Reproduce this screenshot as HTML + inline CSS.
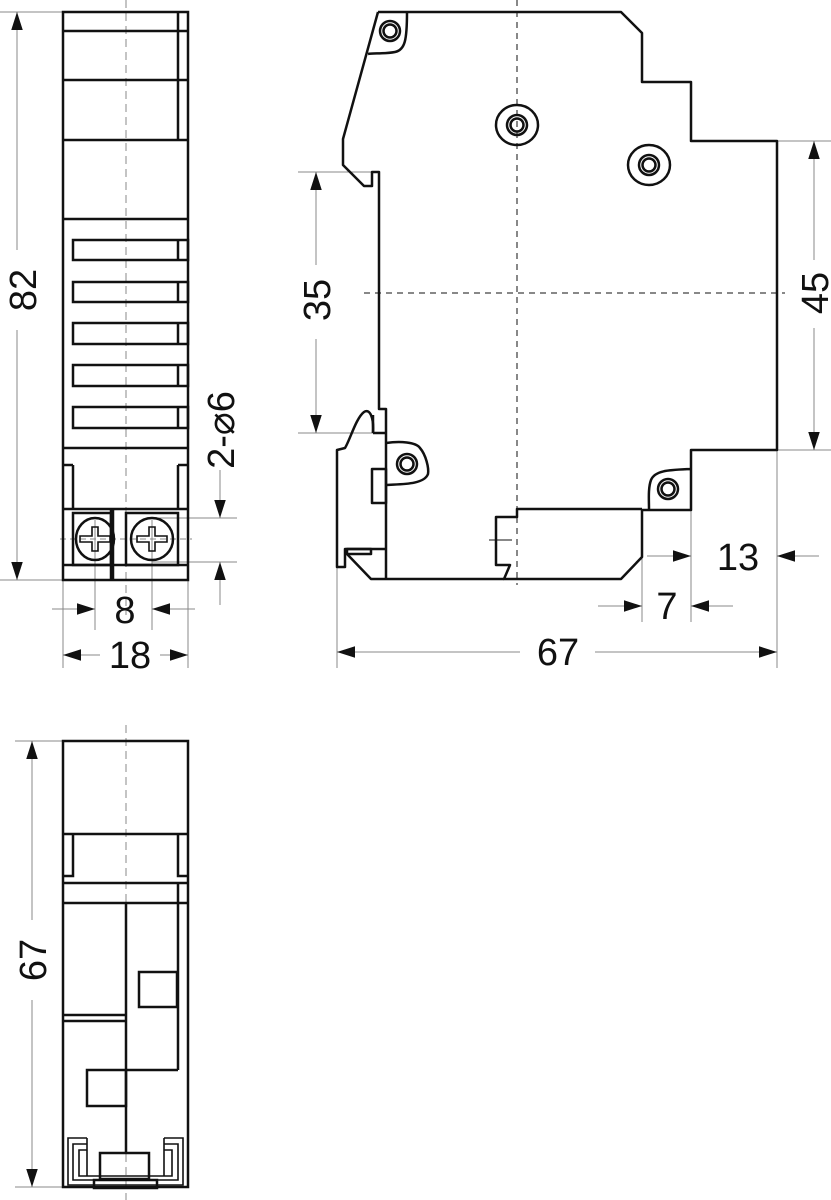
<!DOCTYPE html>
<html><head><meta charset="utf-8"><style>
html,body{margin:0;padding:0;background:#fff;}
svg{display:block;}
text{font-family:"Liberation Sans",sans-serif;font-size:38px;fill:#111;}
</style></head><body>
<svg width="831" height="1200" viewBox="0 0 831 1200" xmlns="http://www.w3.org/2000/svg">
<defs>
<marker id="a" viewBox="0 0 10 10" refX="10" refY="5" markerWidth="18" markerHeight="18" markerUnits="userSpaceOnUse" orient="auto"><path d="M0,1.8 L10,5 L0,8.2 Z" fill="#111"/></marker>
</defs>
<g stroke="#888" stroke-width="1" fill="none">
<line x1="126" y1="0" x2="126" y2="615" stroke-dasharray="8,5"/>
<line x1="126" y1="725" x2="126" y2="1200" stroke-dasharray="8,5"/>
<line x1="517" y1="0" x2="517" y2="585" stroke="#111" stroke-dasharray="6,5"/>
<line x1="364" y1="293" x2="785" y2="293" stroke="#111" stroke-dasharray="6,5"/>
<line x1="60" y1="539" x2="192" y2="539" stroke-dasharray="6,4"/>
<line x1="0" y1="12" x2="63" y2="12"/><line x1="0" y1="580" x2="63" y2="580"/>
<line x1="152" y1="518" x2="237" y2="518"/><line x1="152" y1="562" x2="237" y2="562"/>
<line x1="95" y1="520" x2="95" y2="630"/><line x1="152" y1="520" x2="152" y2="630"/>
<line x1="63" y1="580" x2="63" y2="668"/><line x1="188" y1="580" x2="188" y2="668"/>
<line x1="298" y1="172" x2="379" y2="172"/><line x1="298" y1="433" x2="373" y2="433"/>
<line x1="777" y1="141" x2="831" y2="141"/><line x1="777" y1="450" x2="831" y2="450"/>
<line x1="691" y1="510" x2="691" y2="622"/><line x1="642" y1="557" x2="642" y2="622"/>
<line x1="337" y1="567" x2="337" y2="668"/><line x1="777" y1="450" x2="777" y2="668"/>
<line x1="15" y1="741" x2="63" y2="741"/><line x1="15" y1="1187" x2="63" y2="1187"/>
</g>
<g stroke="#888" stroke-width="1" fill="none" marker-end="url(#a)">
<line x1="17" y1="250" x2="17" y2="12"/><line x1="17" y1="330" x2="17" y2="580"/>
<line x1="220" y1="470" x2="220" y2="518"/><line x1="220" y1="605" x2="220" y2="562"/>
<line x1="52" y1="609" x2="95" y2="609"/><line x1="195" y1="609" x2="152" y2="609"/>
<line x1="100" y1="655" x2="63" y2="655"/><line x1="160" y1="655" x2="188" y2="655"/>
<line x1="316" y1="265" x2="316" y2="172"/><line x1="316" y1="339" x2="316" y2="433"/>
<line x1="814" y1="260" x2="814" y2="141"/><line x1="814" y1="328" x2="814" y2="450"/>
<line x1="647" y1="556" x2="691" y2="556"/><line x1="819" y1="556" x2="777" y2="556"/>
<line x1="598" y1="606" x2="642" y2="606"/><line x1="733" y1="606" x2="691" y2="606"/>
<line x1="520" y1="652" x2="337" y2="652"/><line x1="595" y1="652" x2="777" y2="652"/>
<line x1="32" y1="920" x2="32" y2="741"/><line x1="32" y1="1000" x2="32" y2="1187"/>
</g>
<g stroke="#111" stroke-width="2.5" fill="none">
<rect x="63" y="12" width="125" height="568"/>
<line x1="63" y1="31" x2="188" y2="31"/><line x1="63" y1="80" x2="188" y2="80"/>
<line x1="63" y1="140" x2="188" y2="140"/><line x1="63" y1="219" x2="188" y2="219"/>
<line x1="63" y1="448" x2="188" y2="448"/><line x1="63" y1="509" x2="188" y2="509"/>
<line x1="178" y1="12" x2="178" y2="140"/>
<rect x="73" y="240" width="115" height="20"/><line x1="178" y1="240" x2="178" y2="260"/>
<rect x="73" y="282" width="115" height="20"/><line x1="178" y1="282" x2="178" y2="302"/>
<rect x="73" y="323" width="115" height="21"/><line x1="178" y1="323" x2="178" y2="344"/>
<rect x="73" y="365" width="115" height="21"/><line x1="178" y1="365" x2="178" y2="386"/>
<rect x="73" y="407" width="115" height="21"/><line x1="178" y1="407" x2="178" y2="428"/>
<line x1="73" y1="465" x2="73" y2="509"/><line x1="63" y1="465" x2="73" y2="465"/>
<line x1="178" y1="465" x2="178" y2="509"/><line x1="178" y1="465" x2="188" y2="465"/>
<line x1="111" y1="509" x2="111" y2="580"/><line x1="113" y1="509" x2="113" y2="580"/>
<rect x="73" y="513" width="38" height="52"/>
<line x1="63" y1="565" x2="188" y2="565"/>
<rect x="126" y="513" width="52" height="52"/>
<ellipse cx="95" cy="539" rx="19" ry="21"/>
<ellipse cx="152" cy="539" rx="21" ry="21"/>
<path d="M92,527 h6 v9 h12 v6 h-12 v9 h-6 v-9 h-12 v-6 h12 z" stroke-width="1.6"/>
<path d="M149,527 h6 v9 h12 v6 h-12 v9 h-6 v-9 h-12 v-6 h12 z" stroke-width="1.6"/>
</g>
<g stroke="#111" stroke-width="2.5" fill="none" stroke-linejoin="round">
<path d="M378,12 L621,12 L642,33 L642,82 L691,82 L691,141 L777,141 L777,450 L691,450 L691,510 L642,510 L642,557 L621,579 L504,579 L510,565 L496,565 L496,517 L517,517 L517,509 L642,509"/>
<path d="M504,579 L371,579 L347,554"/>
<path d="M378,12 L343,139 L343,165 L364,186 L372,186 L372,172 L379,172 L379,409 L386,409 L386,579"/>
<path d="M373,433 C374,418 370,408 364,412 C356,418 350,440 345,448 L337,450 L337,567 L345,567 L345,549 L386,549"/>
<line x1="373" y1="433" x2="386" y2="433"/><line x1="373" y1="415" x2="373" y2="433"/>
<rect x="347" y="549" width="24" height="5"/>
<rect x="372" y="469" width="14" height="34"/>
<path d="M407,12 C407,40 405,50 395,52 C385,54 372,53 368,54"/>
<circle cx="390" cy="31" r="10"/><circle cx="390" cy="31" r="6.5"/>
<path d="M386,443 C400,441 416,442 420,448 C426,455 429,468 428,474 C424,485 400,484 386,485"/>
<circle cx="407" cy="464" r="10"/><circle cx="407" cy="464" r="6.5"/>
<path d="M691,469 C670,470 655,470 651,480 C648,488 649,500 649,509"/>
<circle cx="668" cy="489" r="10"/><circle cx="668" cy="489" r="6.5"/>
<ellipse cx="517" cy="125" rx="21" ry="20"/><circle cx="517" cy="125" r="10"/><circle cx="517" cy="125" r="6.5"/>
<ellipse cx="649" cy="165" rx="21" ry="20"/><circle cx="649" cy="165" r="10"/><circle cx="649" cy="165" r="6.5"/>
</g>
<line x1="489" y1="540" x2="512" y2="540" stroke="#111" stroke-width="1"/>
<g stroke="#111" stroke-width="2.5" fill="none">
<rect x="63" y="741" width="125" height="446"/>
<line x1="63" y1="834" x2="188" y2="834"/>
<path d="M63,876 H73 V834"/><path d="M188,876 H178 V834"/>
<line x1="63" y1="883" x2="188" y2="883"/><line x1="63" y1="903" x2="188" y2="903"/>
<line x1="178" y1="883" x2="178" y2="1070"/><line x1="126" y1="1070" x2="178" y2="1070"/>
<line x1="126" y1="903" x2="126" y2="1153"/>
<line x1="63" y1="1015" x2="126" y2="1015"/><line x1="63" y1="1021" x2="126" y2="1021"/>
<rect x="139" y="972" width="38" height="35"/>
<rect x="87" y="1070" width="39" height="36"/>
<rect x="100" y="1153" width="49" height="26"/>
<rect x="94" y="1180" width="63" height="8"/>
<path d="M87,1138 H68 V1185 H183 V1138 H164" stroke-width="1.6"/>
<path d="M87,1144 H73 V1180 H178 V1144 H164" stroke-width="1.6"/>
<path d="M87,1150 H79 V1176 H172 V1150 H164" stroke-width="1.6"/>
<line x1="87" y1="1138" x2="87" y2="1176" stroke-width="1.6"/>
<line x1="164" y1="1138" x2="164" y2="1176" stroke-width="1.6"/>
</g>
<text transform="translate(36,290) rotate(-90)" text-anchor="middle">82</text>
<text transform="translate(234,430) rotate(-90)" text-anchor="middle">2-⌀6</text>
<text x="125" y="623" text-anchor="middle">8</text>
<text x="130" y="668" text-anchor="middle">18</text>
<text transform="translate(330,300) rotate(-90)" text-anchor="middle">35</text>
<text transform="translate(828,293) rotate(-90)" text-anchor="middle">45</text>
<text x="738" y="570" text-anchor="middle">13</text>
<text x="667" y="619" text-anchor="middle">7</text>
<text x="558" y="665" text-anchor="middle">67</text>
<text transform="translate(46,960) rotate(-90)" text-anchor="middle">67</text>
</svg>
</body></html>
